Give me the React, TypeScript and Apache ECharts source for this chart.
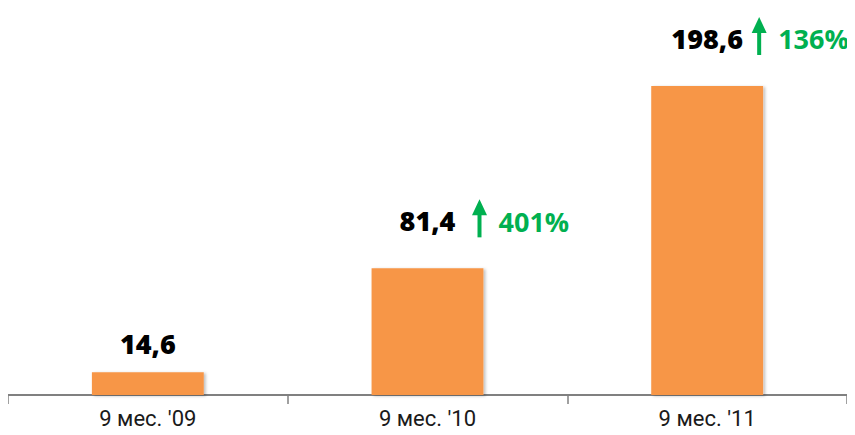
import React, { useEffect, useRef } from "react";
import * as echarts from "echarts";

const categories = ["9 мес. '09", "9 мес. '10", "9 мес. '11"];
const values = [14.6, 81.4, 198.6];
const growth = ["", "401%", "136%"];
const labelDistance = [15, 34, 34];

export default function App() {
  const ref = useRef<HTMLDivElement>(null);
  useEffect(() => {
    if (!ref.current) return;
    const chart = echarts.init(ref.current, null, { renderer: "svg" });
    const green = "#00B050";
    chart.setOption({
      animation: false,
      grid: { left: 8, right: 8, top: 6, bottom: 40, containLabel: false },
      xAxis: {
        type: "category",
        data: categories,
        axisLine: { lineStyle: { color: "#808080", width: 2 } },
        axisTick: { show: true, length: 9, lineStyle: { color: "#808080", width: 1.5 } },
        axisLabel: {
          color: "#1a1a1a",
          fontSize: 22,
          fontFamily: "Roboto, sans-serif",
          margin: 12,
        },
      },
      yAxis: {
        type: "value",
        min: 0,
        max: 250,
        show: false,
        splitLine: { show: false },
      },
      series: [
        {
          type: "bar",
          barWidth: "40%",
          data: values.map((v, i) => ({
            value: v,
            label: { distance: labelDistance[i] },
          })),
          itemStyle: {
            color: "#F79646",
            shadowColor: "rgba(0,0,0,0.25)",
            shadowBlur: 3,
            shadowOffsetX: 2,
            shadowOffsetY: 1,
          },
          label: {
            show: true,
            position: "top",
            color: "#000",
            fontSize: 27,
            fontWeight: 800,
            fontFamily: "Open Sans, sans-serif",
            formatter: (p: any) => String(p.value).replace(".", ","),
          },
        },
        {
          type: "custom",
          silent: true,
          data: values
            .map((v, i) => [i, v, growth[i]])
            .filter((d) => d[2] !== ""),
          renderItem: (params: any, api: any) => {
            const p = api.coord([api.value(0), api.value(1)]);
            const idx = params.dataIndex;
            const text = growth.filter((g) => g !== "")[idx];
            const cx = p[0];
            const cy = p[1] - 47;
            const ax = cx + 52;
            return {
              type: "group",
              children: [
                {
                  type: "rect",
                  shape: { x: ax - 2, y: cy - 8, width: 4, height: 24 },
                  style: { fill: green },
                },
                {
                  type: "polygon",
                  shape: {
                    points: [
                      [ax - 7.5, cy - 6],
                      [ax + 7.5, cy - 6],
                      [ax, cy - 22],
                    ],
                  },
                  style: { fill: green },
                },
                {
                  type: "text",
                  x: cx + 71,
                  y: cy,
                  style: {
                    text,
                    fill: green,
                    font: "bold 27px 'Open Sans', sans-serif",
                    textAlign: "left",
                    textVerticalAlign: "middle",
                  },
                },
              ],
            };
          },
        },
      ],
    });
    return () => chart.dispose();
  }, []);
  return <div ref={ref} style={{ width: 855, height: 435, margin: -8 }} />;
}
